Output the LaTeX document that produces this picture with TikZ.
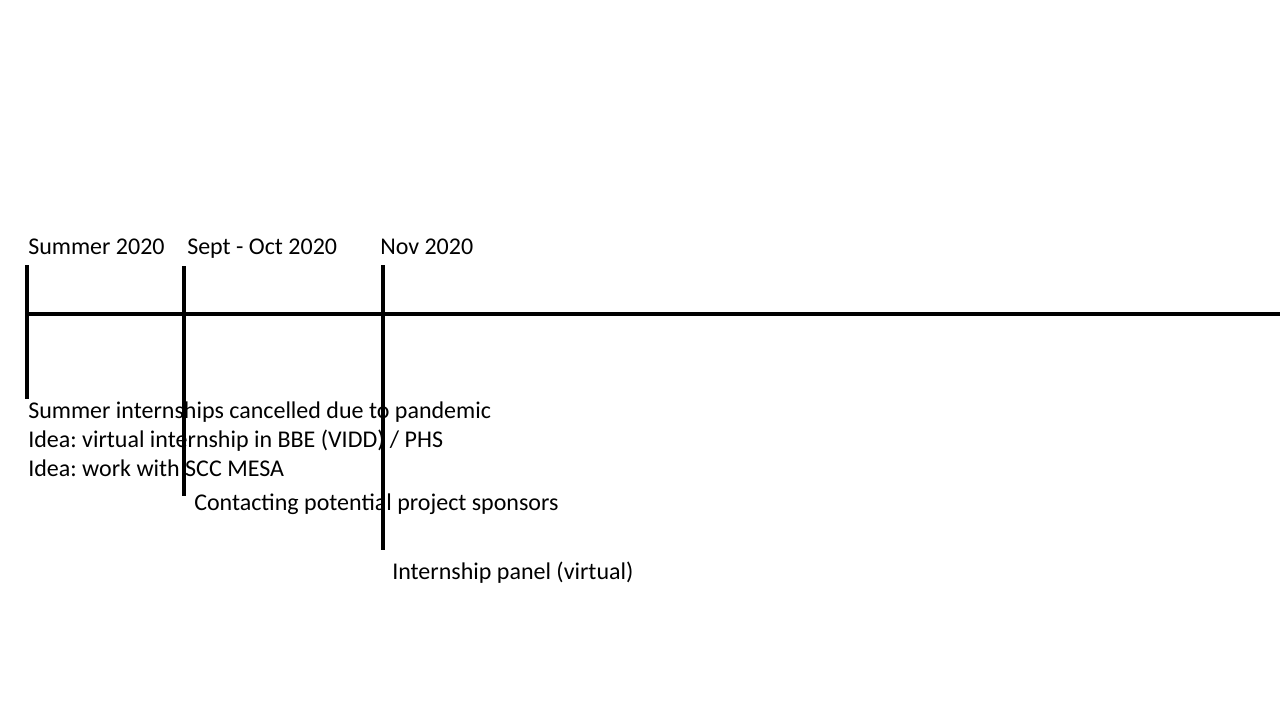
\documentclass[tikz,border=0pt]{standalone}
\usepackage{fontspec}
\setmainfont{Carlito}
\frenchspacing
\begin{document}
\begin{tikzpicture}[x=0.75pt,y=-0.75pt,
  lbl/.style={anchor=base west,inner sep=0pt,font=\fontsize{18}{22}\selectfont},
  axis/.style={line width=2.4pt}]
\useasboundingbox[fill=white] (0,0) rectangle (1280,720);
% main line
\coordinate (ls) at (27,314);
\coordinate (le) at (1280,314);
\draw[axis] (ls) -- (le);
% ticks
\coordinate (t1a) at (27,265);  \coordinate (t1b) at (27,399);
\coordinate (t2a) at (184,266); \coordinate (t2b) at (184,496);
\coordinate (t3a) at (383,265); \coordinate (t3b) at (383,550);
\draw[axis] (t1a) -- (t1b);
\draw[axis] (t2a) -- (t2b);
\draw[axis] (t3a) -- (t3b);
% top labels
\node[lbl] (d1) at (28,254) {Summer 2020};
\node[lbl] (d2) at (187,254) {Sept - Oct 2020};
\node[lbl] (d3) at (380,254) {Nov 2020};
% bottom texts
\node[lbl] (e1) at (28,418) {Summer internships cancelled due to pandemic};
\node[lbl] (e2) at (28,447) {Idea: virtual internship in BBE (VIDD) / PHS};
\node[lbl] (e3) at (28,476) {Idea: work with SCC MESA};
\node[lbl] (e4) at (194,510) {Contacting potential project sponsors};
\node[lbl] (e5) at (392,579) {Internship panel (virtual)};
\end{tikzpicture}
\end{document}
